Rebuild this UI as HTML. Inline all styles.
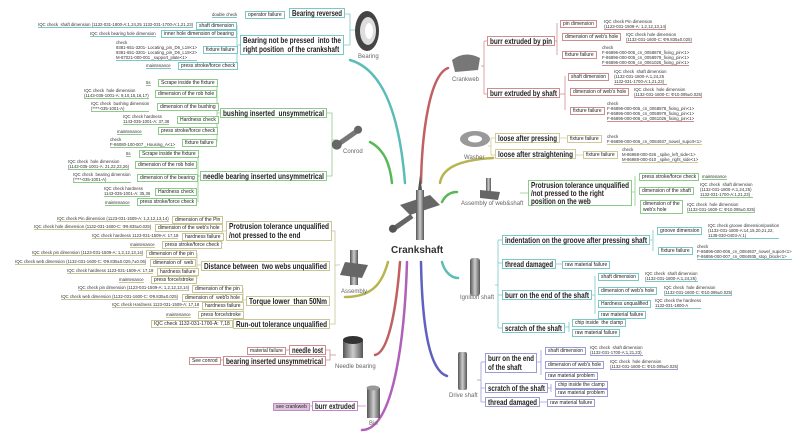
<!DOCTYPE html><html><head><meta charset="utf-8"><style>
body{margin:0;width:800px;height:440px;background:#fff;position:relative;overflow:hidden;font-family:"Liberation Sans",sans-serif;color:#222}
.b{position:absolute;border:1px solid;background:#fff;box-sizing:border-box;white-space:nowrap;line-height:1.1}
.t{font-weight:bold;font-size:8.4px;padding:0 2px;line-height:9px;height:10px}
.t .i{display:inline-block;transform:scaleX(.75);transform-origin:0 0}
.s{font-size:5px;padding:0 2px;line-height:6px}
.n{position:absolute;font-size:4.3px;line-height:5px;white-space:nowrap;color:#333;border-bottom:1px solid}
.l{position:absolute;font-size:6px;color:#666;white-space:nowrap}
.A{border-color:#7cc8c6}.B{border-color:#8ccb8a}.C{border-color:#c8c596}.D{border-color:#cf8e8e}.E{border-color:#c488c8}.F{border-color:#9b9bd6}.G{border-color:#d0ca9a}
</style></head><body>
<svg width="800" height="440" style="position:absolute;left:0;top:0" fill="none">
<g stroke-width="2.5" stroke-linecap="round">
<path d="M350,60 C385,70 400,120 405,183" stroke="#5bbcb8"/>
<path d="M370,142 C385,150 390,165 392,183" stroke="#58b858"/>
<path d="M345,297 C375,297 383,280 388,262" stroke="#b8b450"/>
<path d="M375,355 C390,352 397,300 400,262" stroke="#c06060"/>
<path d="M362,430 C395,430 405,330 407,262" stroke="#b060b8"/>
<path d="M448,68 C430,75 422,130 421,183" stroke="#c06060"/>
<path d="M493,158 C455,160 442,170 440,183" stroke="#b8b450"/>
<path d="M457,192 C450,192 445,196 442,202" stroke="#58b858"/>
<path d="M458,278 C450,278 444,270 442,262" stroke="#5bbcb8"/>
<path d="M447,376 C428,370 422,320 421,262" stroke="#6060c0"/>
</g>
<g stroke-width="0.8">
<g stroke="#7cc8c6"><path d="M237,25V65M237,45H240M345,14H350V45H344M350,30H355"/></g>
<g stroke="#8ccb8a"><path d="M217,82V142M217,113H220M198,153V202M198,176H200M327,113H332V176H327M332,140H336"/></g>
<g stroke="#c8c596"><path d="M222,220V244M222,231H226M197,253V279M197,265H201M243,288V314M243,300H246M330,231H335V324H330M335,265H340M225,323H233"/></g>
<g stroke="#cf8e8e"><path d="M326,350H330V360H326M330,355H336M282,350H289M218,360H223"/></g>
<g stroke="#c488c8"><path d="M305,406H312M358,406H366"/></g>
<g stroke="#cf8e8e"><path d="M484,41V94M484,41H487M484,94H487M481,66H484M557,23V55M555,41H557M565,76V110M560,94H565"/></g>
<g stroke="#d0ca9a"><path d="M491,138V155H495M491,138H495M488,146H491M560,138H567M576,155H583"/></g>
<g stroke="#8ccb8a"><path d="M635,176V206M632,192H635M520,193H528"/></g>
<g stroke="#7cc8c6"><path d="M498,240V328M498,240H502M498,263H502M498,295H502M498,328H502M495,285H498M653,230V251M650,240H653M595,276V314M592,295H595M569,322V332M565,327H569M556,264H562"/></g>
<g stroke="#9b9bd6"><path d="M481,362V402M481,362H485M481,388H485M481,402H485M477,380H481M541,350V375M537,362H541M551,384V392M548,388H551M540,402H547"/></g>
</g>
<defs><linearGradient id="g" x1="0" x2="1"><stop offset="0" stop-color="#555"/><stop offset=".5" stop-color="#ccc"/><stop offset="1" stop-color="#555"/></linearGradient></defs>
<ellipse cx="367" cy="31" rx="12" ry="20" fill="#444"/><ellipse cx="368" cy="31" rx="8" ry="14" fill="#ddd"/><ellipse cx="369" cy="31" rx="4" ry="8" fill="#fff"/>
<g transform="rotate(-35 348 138)"><rect x="333" y="135" width="30" height="5" fill="#777"/><circle cx="335" cy="137" r="5" fill="#666"/><circle cx="361" cy="137" r="4" fill="#666"/></g>
<rect x="350" y="250" width="8" height="35" fill="url(#g)"/><path d="M345,262L368,265L362,278L340,275Z" fill="#666"/>
<rect x="343" y="340" width="20" height="18" fill="url(#g)"/><ellipse cx="353" cy="340" rx="10" ry="4" fill="#333"/>
<rect x="367" y="388" width="13" height="30" fill="url(#g)"/><ellipse cx="373" cy="388" rx="6.5" ry="2.5" fill="#999"/>
<path d="M400,205L430,195L440,205L410,215Z" fill="#666"/><rect x="416" y="190" width="8" height="50" fill="url(#g)"/><path d="M418,190L420,175L422,190Z" fill="#555"/><g transform="rotate(-35 400 225)"><rect x="390" y="222" width="25" height="5" fill="#666"/><circle cx="392" cy="224" r="4" fill="#555"/></g>
<path d="M452,60 Q465,50 480,58 L478,70 L455,72Z" fill="#777"/>
<ellipse cx="475" cy="139" rx="15" ry="8" fill="#999"/><ellipse cx="475" cy="139" rx="7" ry="3.5" fill="#fff"/>
<rect x="486" y="178" width="5" height="14" fill="url(#g)"/><path d="M480,190L500,192L498,200L480,198Z" fill="#666"/>
<rect x="470" y="258" width="10" height="38" rx="3" fill="url(#g)"/>
<rect x="458" y="352" width="9" height="38" rx="2" fill="url(#g)"/>
</svg>

<div class="l" style="left:358px;top:54px">Bearing</div>
<div class="l" style="left:343px;top:149px">Conrod</div>
<div class="l" style="left:341px;top:289px">Assembly</div>
<div class="l" style="left:335px;top:364px">Needle bearing</div>
<div class="l" style="left:369px;top:421px">Bin</div>
<div style="position:absolute;left:391px;top:245px;font-weight:bold;font-size:10px;color:#333">Crankshaft</div>
<div class="l" style="left:452px;top:77px">Crankweb</div>
<div class="l" style="left:464px;top:155px">Washer</div>
<div class="l" style="left:461px;top:201px">Assembly of web&amp;shaft</div>
<div class="l" style="left:460px;top:295px">Ignition shaft</div>
<div class="l" style="left:449px;top:393px">Drive shaft</div>

<!-- Bearing -->
<div class="b t A" style="left:289px;top:8px;width:56px"><span class="i">Bearing reversed</span></div>
<div class="b s A" style="left:245px;top:11px">operator failure</div>
<div class="n A" style="left:212px;top:12px">double check</div>
<div class="b t A" style="left:240px;top:35px;width:104px;height:20px"><span class="i">Bearing not be pressed &nbsp;into the<br>right position &nbsp;of the crankshaft</span></div>
<div class="b s A" style="left:196px;top:22px">shaft dimension</div>
<div class="n A" style="left:38px;top:22px">IQC check &nbsp;shaft dimension (1132-031-1800-A:1,24,25 1132-031-1700-A:1,21,23)</div>
<div class="b s A" style="left:161px;top:30px">inner hole dimension of bearing</div>
<div class="n A" style="left:90px;top:31px">IQC check bearing hole dimension</div>
<div class="b s A" style="left:203px;top:46px">fixture failure</div>
<div class="n A" style="left:116px;top:40px">check<br>9381-651-3201- Locating_pin_D6_L18&lt;1&gt;<br>9381-651-3201- Locating_pin_D6_L18&lt;2&gt;<br>M-87021-000-001 _support_plate&lt;1&gt;</div>
<div class="b s A" style="left:178px;top:62px">press stroke/force check</div>
<div class="n A" style="left:146px;top:63px">maintenance</div>

<!-- Conrod -->
<div class="b t B" style="left:220px;top:108px;width:107px"><span class="i">bushing inserted &nbsp;unsymmetrical</span></div>
<div class="b s B" style="left:158px;top:79px">Scrape inside the fixture</div><div class="n B" style="left:146px;top:80px">5s</div>
<div class="b s B" style="left:155px;top:90px">dimension of the rob hole</div><div class="n B" style="left:84px;top:88px">IQC check &nbsp;hole dimension<br>(1143-035-1001-A: 9,10,15,16,17)</div>
<div class="b s B" style="left:157px;top:103px">dimension of the bushing</div><div class="n B" style="left:91px;top:101px">IQC check &nbsp;bushing dimension<br>(****-035-1001-A)</div>
<div class="b s B" style="left:177px;top:116px">Hardness check</div><div class="n B" style="left:123px;top:114px">IQC check hardness<br>1143-035-1001-A: 37,38</div>
<div class="b s B" style="left:158px;top:127px">press stroke/force check</div><div class="n B" style="left:117px;top:129px">maintenance</div>
<div class="b s B" style="left:182px;top:139px">fixture failure</div><div class="n B" style="left:110px;top:137px">check<br>F-86080-100-007 _Housing_A&lt;1&gt;</div>
<div class="b t B" style="left:200px;top:171px;width:127px"><span class="i">needle bearing inserted unsymmetrical</span></div>
<div class="b s B" style="left:139px;top:150px">Scrape inside the fixture</div><div class="n B" style="left:126px;top:151px">5s</div>
<div class="b s B" style="left:135px;top:161px">dimension of the rob hole</div><div class="n B" style="left:68px;top:159px">IQC check &nbsp;hole dimension<br>(1143-035-1001-A: 21,22,23,26)</div>
<div class="b s B" style="left:137px;top:174px">dimension of the bearing</div><div class="n B" style="left:73px;top:172px">IQC check &nbsp;bearing dimension<br>(****-035-1001-A)</div>
<div class="b s B" style="left:155px;top:188px">Hardness check</div><div class="n B" style="left:104px;top:186px">IQC check hardness<br>1143-035-1001-A: 35,36</div>
<div class="b s B" style="left:137px;top:198px">press stroke/force check</div><div class="n B" style="left:105px;top:200px">maintenance</div>

<!-- Assembly -->
<div class="b t C" style="left:226px;top:221px;width:106px;height:20px"><span class="i">Protrusion tolerance unqualified<br>/not pressed to the end</span></div>
<div class="b s C" style="left:172px;top:216px">dimension of the Pin</div><div class="n C" style="left:57px;top:216px">IQC check Pin dimension (1123-031-1509-A: 1,2,12,13,14)</div>
<div class="b s C" style="left:155px;top:224px">dimension of the web's hole</div><div class="n C" style="left:34px;top:224px">IQC check hole dimension (1132-031-1600-C: Φ9.835±0.025)</div>
<div class="b s C" style="left:182px;top:233px">hardness failure</div><div class="n C" style="left:92px;top:233px">IQC check hardness 1123-031-1509-A: 17,18</div>
<div class="b s C" style="left:162px;top:241px">press stroke/force check</div><div class="n C" style="left:130px;top:242px">maintenance</div>
<div class="b t C" style="left:201px;top:261px;width:129px"><span class="i">Distance between &nbsp;two webs unqualified</span></div>
<div class="b s C" style="left:146px;top:250px">dimension of the pin</div><div class="n C" style="left:32px;top:250px">IQC check pin dimension (1123-031-1509-A: 1,2,12,13,14)</div>
<div class="b s C" style="left:150px;top:259px">dimension of &nbsp;web</div><div class="n C" style="left:15px;top:259px">IQC check web dimension (1132-031-1600-C: Φ9.835±0.025,7±0.06)</div>
<div class="b s C" style="left:157px;top:268px">hardness failure</div><div class="n C" style="left:67px;top:268px">IQC check hardness 1123-031-1509-A: 17,18</div>
<div class="b s C" style="left:151px;top:276px">press force/stroke</div><div class="n C" style="left:119px;top:277px">maintenance</div>
<div class="b t C" style="left:246px;top:296px;width:84px"><span class="i">Torque lower &nbsp;than 50Nm</span></div>
<div class="b s C" style="left:192px;top:285px">dimension of the pin</div><div class="n C" style="left:78px;top:285px">IQC check pin dimension (1123-031-1509-A: 1,2,12,13,14)</div>
<div class="b s C" style="left:182px;top:294px">dimension of &nbsp;web'b hole</div><div class="n C" style="left:61px;top:294px">IQC check web dimension (1132-031-1600-C: Φ9.835±0.025)</div>
<div class="b s C" style="left:202px;top:302px">hardness failure</div><div class="n C" style="left:112px;top:302px">IQC check Hardness 1123-031-1509-A: 17,18</div>
<div class="b s C" style="left:198px;top:311px">press force/stroke</div><div class="n C" style="left:166px;top:312px">maintenance</div>
<div class="b t C" style="left:233px;top:319px;width:97px"><span class="i">Run-out tolerance unqualified</span></div>
<div class="b s C" style="left:151px;top:320px">IQC check 1132-031-1700-A: 7,18</div>

<!-- Needle bearing -->
<div class="b t D" style="left:289px;top:345px;width:37px"><span class="i">needle lost</span></div>
<div class="b s D" style="left:247px;top:347px">material failure</div>
<div class="b t D" style="left:223px;top:356px;width:103px"><span class="i">bearing inserted unsymmetrical</span></div>
<div class="b s D" style="left:189px;top:357px">See conrod</div>

<!-- Bin -->
<div class="b t E" style="left:312px;top:401px;width:46px"><span class="i">burr extruded</span></div>
<div class="b s E" style="left:273px;top:403px;background:#dcc6dc">see crankweb</div>

<!-- Crankweb -->
<div class="b t D" style="left:487px;top:36px;width:68px"><span class="i">burr extruded by pin</span></div>
<div class="b s D" style="left:560px;top:20px">pin dimension</div><div class="n D" style="left:604px;top:19px">IQC check Pin dimension<br>(1123-031-1509-A: 1,2,12,13,14)</div>
<div class="b s D" style="left:562px;top:33px">dimension of web's hole</div><div class="n D" style="left:626px;top:32px">IQC check hole dimension<br>(1132-031-1600-C: Φ9.835±0.025)</div>
<div class="b s D" style="left:562px;top:51px">fixture failure</div><div class="n D" style="left:602px;top:45px">check<br>F-86896-000-005_cn_0058878_fixing_pin&lt;1&gt;<br>F-86896-000-005_cn_0058979_fixing_pin&lt;1&gt;<br>F-86896-000-006_cn_0061026_fixing_pin&lt;1&gt;</div>
<div class="b t D" style="left:487px;top:88px;width:73px"><span class="i">burr extruded by shaft</span></div>
<div class="b s D" style="left:568px;top:73px">shaft dimension</div><div class="n D" style="left:614px;top:69px">IQC check &nbsp;shaft dimension<br>(1132-031-1800-A:1,24,25<br>1132-031-1700-A:1,21,23)</div>
<div class="b s D" style="left:570px;top:88px">dimension of web's hole</div><div class="n D" style="left:634px;top:87px">IQC check &nbsp;hole dimension<br>(1132-031-1600-C: Φ10.095±0.025)</div>
<div class="b s D" style="left:570px;top:107px">fixture failure</div><div class="n D" style="left:607px;top:101px">check<br>F-86896-000-005_cn_0058878_fixing_pin&lt;1&gt;<br>F-86896-000-005_cn_0058979_fixing_pin&lt;1&gt;<br>F-86896-000-006_cn_0061026_fixing_pin&lt;1&gt;</div>

<!-- Washer -->
<div class="b t G" style="left:495px;top:133px;width:65px"><span class="i">loose after pressing</span></div>
<div class="b s G" style="left:567px;top:135px">fixture failure</div><div class="n G" style="left:607px;top:134px">check<br>F-86896-000-006_cn_0084937_nowel_suport&lt;1&gt;</div>
<div class="b t G" style="left:495px;top:149px;width:81px"><span class="i">loose after straightening</span></div>
<div class="b s G" style="left:583px;top:151px">fixture failure</div><div class="n G" style="left:622px;top:147px">check<br>M-86988-000-026 _spike_left_side&lt;1&gt;<br>M-86988-000-010 _spike_right_side&lt;1&gt;</div>

<!-- web&shaft -->
<div class="b t B" style="left:528px;top:180px;width:104px;height:26px;line-height:8.2px"><span class="i">Protrusion tolerance unqualified<br>/not pressed to the right<br>position on the web</span></div>
<div class="b s B" style="left:639px;top:173px">press stroke/force check</div><div class="n B" style="left:702px;top:174px">maintenance</div>
<div class="b s B" style="left:639px;top:187px">dimension of the shaft</div><div class="n B" style="left:700px;top:182px">IQC check &nbsp;shaft dimension<br>(1132-031-1800-A:1,24,25)<br>1132-031-1700-A:1,21,23)</div>
<div class="b s B" style="left:640px;top:200px">dimension of the<br>web's hole</div><div class="n B" style="left:687px;top:202px">IQC check &nbsp;hole dimension<br>(1132-031-1600-C: Φ10.095±0.025)</div>

<!-- Ignition -->
<div class="b t A" style="left:502px;top:235px;width:148px"><span class="i">indentation on the groove after pressing shaft</span></div>
<div class="b s A" style="left:657px;top:227px">groove dimension</div><div class="n A" style="left:708px;top:223px">IQC check groove dimension/position<br>(1132-031-1800-A:14,15,20,21,22,<br>1138-030-0403-A:1)</div>
<div class="b s A" style="left:658px;top:247px">fixture failure</div><div class="n A" style="left:697px;top:244px">check<br>F-86896-000-006_cn_0084937_nowel_suport&lt;1&gt;<br>F-86896-000-007_cn_0084935_stop_block&lt;1&gt;</div>
<div class="b t A" style="left:502px;top:259px;width:54px"><span class="i">thread damaged</span></div>
<div class="b s A" style="left:562px;top:261px">raw material failure</div>
<div class="b t A" style="left:502px;top:290px;width:90px"><span class="i">burr on the end of the shaft</span></div>
<div class="b s A" style="left:598px;top:273px">shaft dimension</div><div class="n A" style="left:645px;top:271px">IQC check &nbsp;shaft dimension<br>(1132-031-1800-A:1,24,25)</div>
<div class="b s A" style="left:598px;top:287px">dimension of web's hole</div><div class="n A" style="left:664px;top:285px">IQC check &nbsp;hole dimension<br>(1132-031-1600-C: Φ10.095±0.025)</div>
<div class="b s A" style="left:598px;top:300px">Hardness unqualified</div><div class="n A" style="left:655px;top:298px">IQC check the hardness<br>1132-031-1800-A</div>
<div class="b s A" style="left:598px;top:311px">raw material failure</div>
<div class="b t A" style="left:502px;top:323px;width:63px"><span class="i">scratch of the shaft</span></div>
<div class="b s A" style="left:572px;top:319px">chip inside &nbsp;the clamp</div>
<div class="b s A" style="left:572px;top:329px">raw material failure</div>

<!-- Drive -->
<div class="b t F" style="left:485px;top:353px;width:52px;height:20px"><span class="i">burr on the end<br>of the shaft</span></div>
<div class="b s F" style="left:545px;top:347px">shaft dimension</div><div class="n F" style="left:590px;top:345px">IQC check &nbsp;shaft dimension<br>(1132-031-1700-A:1,21,23)</div>
<div class="b s F" style="left:545px;top:361px">dimension of web's hole</div><div class="n F" style="left:610px;top:359px">IQC check &nbsp;hole dimension<br>(1132-031-1600-C: Φ10.095±0.025)</div>
<div class="b s F" style="left:545px;top:372px">raw material problem</div>
<div class="b t F" style="left:485px;top:383px;width:63px"><span class="i">scratch of the shaft</span></div>
<div class="b s F" style="left:555px;top:381px">chip inside the clamp</div>
<div class="b s F" style="left:555px;top:389px">raw material problem</div>
<div class="b t F" style="left:485px;top:397px;width:55px"><span class="i">thread damaged</span></div>
<div class="b s F" style="left:547px;top:399px">raw material failure</div>
<script>
document.querySelectorAll('.t').forEach(function(b){
  var s=b.querySelector('.i');s.style.transform='none';
  var w=s.getBoundingClientRect().width, avail=b.clientWidth-4;
  var k=Math.min(1,avail/w);
  s.style.transform='scaleX('+k+')';
});
</script>
</body></html>
